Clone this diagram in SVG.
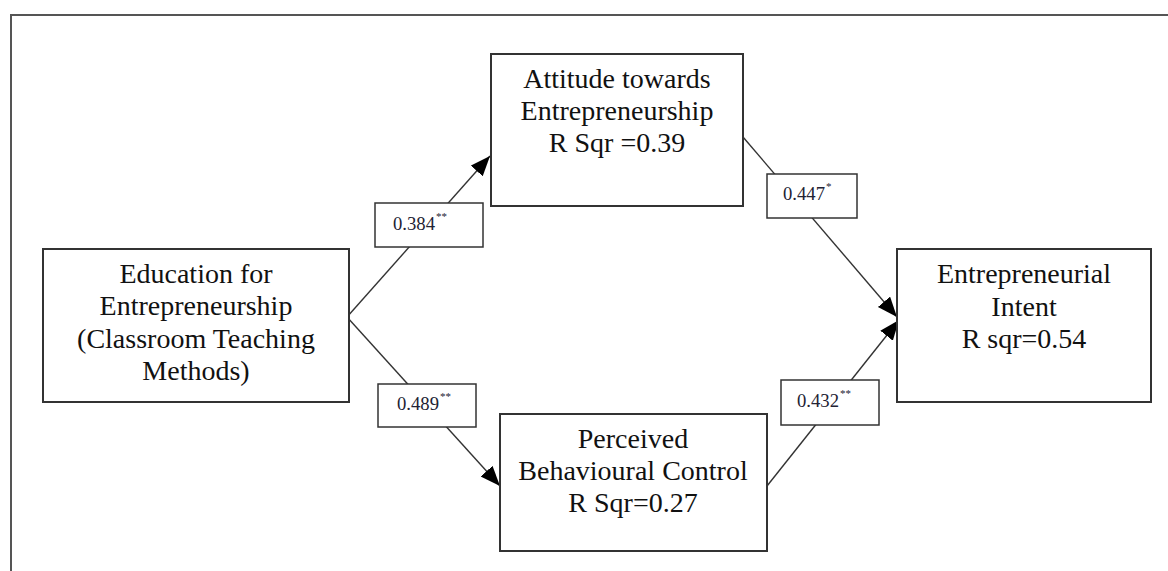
<svg xmlns="http://www.w3.org/2000/svg" width="1168" height="571" viewBox="0 0 1168 571">
<style>
.frame{fill:none;stroke:#555;stroke-width:2}
.box{fill:#fff;stroke:#333;stroke-width:2}
.lbl{fill:#fff;stroke:#333;stroke-width:1.5}
.t{font-family:"Liberation Serif","Times New Roman",serif;font-size:28px;fill:#111;text-anchor:middle}
.n{font-family:"Liberation Serif","Times New Roman",serif;font-size:18px;fill:#223}
.s{font-family:"Liberation Serif","Times New Roman",serif;font-size:11px;fill:#223}
.c{fill:none;stroke:#333;stroke-width:1.4}
</style>
<defs>
<marker id="ah" markerUnits="userSpaceOnUse" markerWidth="22" markerHeight="18" refX="20" refY="8" orient="auto">
<path d="M0,0 L20,8 L0,16 Z" fill="#000"/>
</marker>
</defs>
<rect width="1168" height="571" fill="#fff"/>
<path class="frame" d="M1170,15 L11,15 L11,575"/>
<g id="connectors">
<line class="c" x1="347" y1="317" x2="490" y2="156" marker-end="url(#ah)"/>
<line class="c" x1="347" y1="317" x2="500" y2="486" marker-end="url(#ah)"/>
<line class="c" x1="743" y1="137" x2="897" y2="317" marker-end="url(#ah)"/>
<line class="c" x1="767" y1="486" x2="899" y2="320" marker-end="url(#ah)"/>
<g id="lbl-384">
<rect class="lbl" x="375" y="203" width="108" height="44"/>
<text class="n" x="393" y="230" textLength="42" lengthAdjust="spacingAndGlyphs">0.384</text>
<text class="s" x="436" y="220">**</text>
</g>
<g id="lbl-489">
<rect class="lbl" x="378" y="384" width="98" height="43"/>
<text class="n" x="397" y="410" textLength="42" lengthAdjust="spacingAndGlyphs">0.489</text>
<text class="s" x="440" y="400">**</text>
</g>
<g id="lbl-447">
<rect class="lbl" x="767" y="174" width="90" height="44"/>
<text class="n" x="783" y="200" textLength="42" lengthAdjust="spacingAndGlyphs">0.447</text>
<text class="s" x="826" y="190">*</text>
</g>
<g id="lbl-432">
<rect class="lbl" x="781" y="380" width="98" height="45"/>
<text class="n" x="797" y="407" textLength="42" lengthAdjust="spacingAndGlyphs">0.432</text>
<text class="s" x="840" y="397">**</text>
</g>
</g>
<g id="education">
<rect class="box" x="43" y="249" width="306" height="153"/>
<text class="t" x="196" y="283">Education for</text>
<text class="t" x="196" y="315">Entrepreneurship</text>
<text class="t" x="196" y="348">(Classroom Teaching</text>
<text class="t" x="196" y="380">Methods)</text>
</g>
<g id="attitude">
<rect class="box" x="491" y="54" width="252" height="152"/>
<text class="t" x="617" y="88">Attitude towards</text>
<text class="t" x="617" y="120">Entrepreneurship</text>
<text class="t" x="617" y="152">R Sqr =0.39</text>
</g>
<g id="perceived">
<rect class="box" x="500" y="414" width="267" height="137"/>
<text class="t" x="633" y="448">Perceived</text>
<text class="t" x="633" y="480">Behavioural Control</text>
<text class="t" x="633" y="512">R Sqr=0.27</text>
</g>
<g id="intent">
<rect class="box" x="897" y="249" width="254" height="153"/>
<text class="t" x="1024" y="283">Entrepreneurial</text>
<text class="t" x="1024" y="316">Intent</text>
<text class="t" x="1024" y="348">R sqr=0.54</text>
</g>
</svg>
